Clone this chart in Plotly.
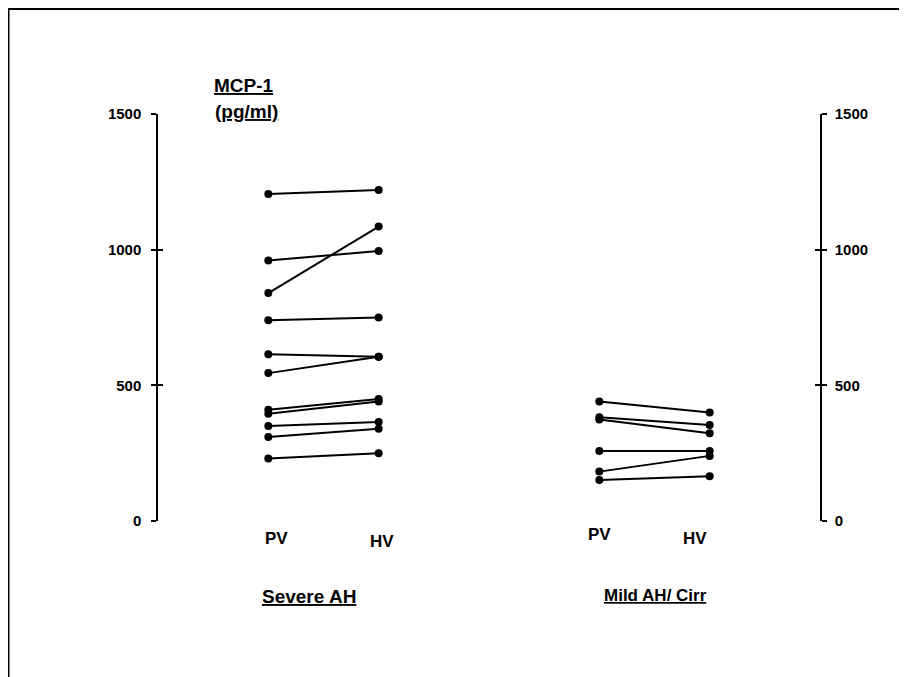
import plotly.graph_objects as go

# ---- data (MCP-1, pg/ml) ----
groups = ["Severe AH", "Mild AH/ Cirr"]
sites = ["PV", "HV"]
severe_pv = [1205, 960, 840, 740, 615, 545, 410, 395, 350, 310, 230]
severe_hv = [1220, 995, 1085, 750, 605, 605, 450, 440, 365, 340, 250]
mild_pv = [440, 382, 374, 258, 182, 151]
mild_hv = [400, 354, 323, 258, 240, 165]
y_ticks = [0, 500, 1000, 1500]

# ---- layout geometry (screen pixels; page body has an 8px margin) ----
OFF = 8
W, H = 907 - OFF, 677 - OFF
SL, SR, ST, SB = 158, 820, 114, 521  # plot area edges on screen
PL, PR, PT, PB = SL - OFF, SR - OFF, ST - OFF, SB - OFF
FONT = "Liberation Sans"


def px_x(p):  # screen x -> paper
    return (p - OFF - PL) / (PR - PL)


def px_y(p):  # screen y -> paper
    return (PB - (p - OFF)) / (PB - PT)


group_x = {"Severe AH": (1, 2), "Mild AH/ Cirr": (4, 5)}
fig = go.Figure()

for g, pv, hv in [(groups[0], severe_pv, severe_hv), (groups[1], mild_pv, mild_hv)]:
    xs = group_x[g]
    for a, b in zip(pv, hv):
        fig.add_trace(go.Scatter(
            x=list(xs), y=[a, b], mode="lines+markers",
            line=dict(color="black", width=2),
            marker=dict(color="black", size=8),
            showlegend=False, hoverinfo="skip"))

# dummy traces to make sure the overlay axes are drawn
for ax in ["y2", "y3", "y4"]:
    fig.add_trace(go.Scatter(x=[None], y=[None], yaxis=ax, showlegend=False,
                             hoverinfo="skip"))

tickfont = dict(family=FONT, size=15, color="black", weight="bold")
common = dict(range=[0, 1500], tickvals=y_ticks, showgrid=False, zeroline=False,
              tickcolor="black", tickwidth=1.5, ticklen=5, linecolor="black",
              linewidth=1.5, fixedrange=True)

fig.update_layout(
    width=W, height=H,
    margin=dict(l=PL, r=W - PR, t=PT, b=H - PB, autoexpand=False),
    paper_bgcolor="white", plot_bgcolor="white",
    xaxis=dict(range=[0, 6], visible=False, fixedrange=True),
    yaxis=dict(**common, side="left", showline=True, ticks="outside",
               tickfont=tickfont, ticklabelstandoff=7),
    yaxis3=dict(**common, side="left", overlaying="y", showline=False,
                ticks="inside", showticklabels=False),
    yaxis2=dict(**common, side="right", overlaying="y", showline=True,
                ticks="outside", tickfont=tickfont, ticklabelstandoff=5),
    yaxis4=dict(**common, side="right", overlaying="y", showline=False,
                ticks="inside", showticklabels=False),
)

# frame lines (top and left)
fig.add_shape(type="line", xref="paper", yref="paper",
              x0=px_x(OFF + 0.5), x1=px_x(907 + 2), y0=px_y(OFF + 1), y1=px_y(OFF + 1),
              line=dict(color="black", width=2))
fig.add_shape(type="line", xref="paper", yref="paper",
              x0=px_x(OFF + 0.75), x1=px_x(OFF + 0.75), y0=px_y(OFF), y1=px_y(677 + 2),
              line=dict(color="black", width=1.5))


def label(text, x, y, size, xref="paper", xshift=0):
    fig.add_annotation(text=text, x=x, y=y, xref=xref, yref="paper",
                       xshift=xshift, showarrow=False, xanchor="center",
                       yanchor="middle",
                       font=dict(family=FONT, size=size, color="black",
                                 weight="bold"))


# axis title
label("<u>MCP-1</u>", px_x(244), px_y(85), 19)
label("<u>(pg/ml)</u>", px_x(246), px_y(111), 19)

# site labels
site_y = {"Severe AH": (538, 541), "Mild AH/ Cirr": (534, 538)}
site_shift = {"Severe AH": (8, 3), "Mild AH/ Cirr": (0, -15)}
for g in groups:
    for i, s in enumerate(sites):
        label(s, group_x[g][i], px_y(site_y[g][i]), 17, xref="x",
              xshift=site_shift[g][i])

# group labels
label("<u>" + groups[0] + "</u>", px_x(309), px_y(596), 19)
label("<u>" + groups[1] + "</u>", px_x(655), px_y(595), 17)

fig.write_html("out.html")
